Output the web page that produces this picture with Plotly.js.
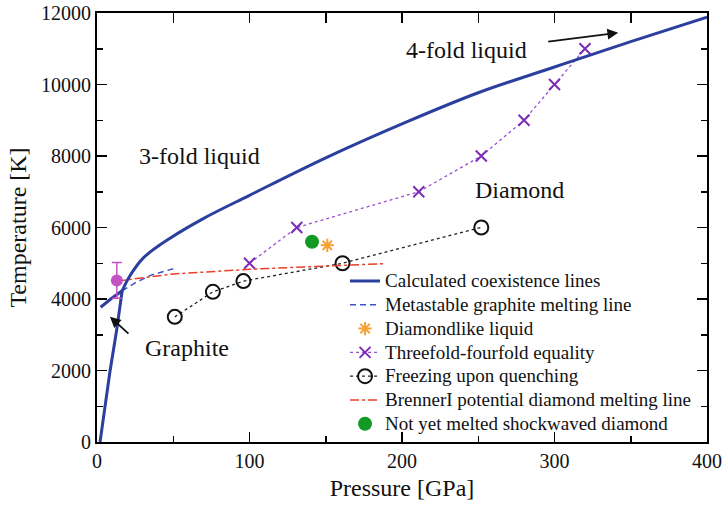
<!DOCTYPE html>
<html>
<head>
<meta charset="utf-8">
<script src="https://cdn.plot.ly/plotly-3.0.1.min.js"></script>
<style>html,body{margin:0;padding:0;background:#fff;}#chart{width:728px;height:510px;}</style>
</head>
<body>
<div id="chart"></div>
<script>
// Calculated coexistence lines: steep diamond/graphite boundary, diamond melting curve, graphite melting line
const coexSteepP = [2, 8.5, 12.9, 16.5];
const coexSteepT = [0, 1970, 3130, 4230];
const coexMeltP = [16.5, 21.6, 30.4, 47.9, 69.7, 100, 150, 205, 250, 300, 350, 400];
const coexMeltT = [4230, 4650, 5150, 5700, 6250, 6900, 7950, 8990, 9770, 10490, 11200, 11880];
const coexGraphiteP = [2.4, 9, 16.5];
const coexGraphiteT = [3770, 4000, 4230];
// Metastable graphite melting line
const metaP = [16.5, 25, 35, 51];
const metaT = [4230, 4450, 4660, 4860];
// Diamondlike liquid
const dlP = [151];
const dlT = [5500];
// Threefold-fourfold equality
const tfP = [100, 131, 211, 252, 280, 300, 320];
const tfT = [5000, 6000, 7000, 8000, 9000, 10000, 11000];
// Freezing upon quenching
const fqP = [51, 76, 96, 161, 252];
const fqT = [3500, 4200, 4500, 5000, 6000];
// BrennerI potential diamond melting line
const brP = [13, 25, 50, 100, 150, 188];
const brT = [4500, 4560, 4700, 4830, 4920, 4990];
// Not yet melted shockwaved diamond
const shP = [141];
const shT = [5600];
// Experimental point with error bar
const expP = [13];
const expT = [4520];
const expErr = [500];

const legendNames = [
  'Calculated coexistence lines',
  'Metastable graphite melting line',
  'Diamondlike liquid',
  'Threefold-fourfold equality',
  'Freezing upon quenching',
  'BrennerI potential diamond melting line',
  'Not yet melted shockwaved diamond'
];
const lg = s => '<span style="font-size:19px">' + s + '</span>';

const blue = '#2b3f9e';
const traces = [
  {x: coexSteepP.concat([null], coexGraphiteP), y: coexSteepT.concat([null], coexGraphiteT),
   mode: 'lines', name: lg(legendNames[0]), legendgroup: 'coex', line: {color: blue, width: 3}, connectgaps: false},
  {x: metaP, y: metaT, mode: 'lines', name: lg(legendNames[1]), line: {color: '#3a55c8', width: 1.5, dash: '6px,4px'}},
  {x: dlP, y: dlT, mode: 'markers', name: lg(legendNames[2]),
   marker: {symbol: 'asterisk-open', size: 11, color: '#f5a133', line: {color: '#f5a133', width: 2}}},
  {x: tfP, y: tfT, mode: 'lines+markers', name: lg(legendNames[3]),
   line: {color: '#9a4fd0', width: 1.3, dash: 'dot'},
   marker: {symbol: 'x-thin-open', size: 11, color: '#7d2cb8', line: {color: '#7d2cb8', width: 2}}},
  {x: fqP, y: fqT, mode: 'lines+markers', name: lg(legendNames[4]),
   line: {color: '#222', width: 1.3, dash: 'dot'},
   marker: {symbol: 'circle-open', size: 14, color: '#111', line: {color: '#111', width: 2}}},
  {x: brP, y: brT, mode: 'lines', name: lg(legendNames[5]), line: {color: '#e8402a', width: 1.5, dash: 'dashdot'}},
  {x: shP, y: shT, mode: 'markers', name: lg(legendNames[6]), marker: {symbol: 'circle', size: 14, color: '#139a24'}},
  {x: coexMeltP, y: coexMeltT, mode: 'lines', showlegend: false, legendgroup: 'coex',
   line: {color: blue, width: 3, shape: 'spline', smoothing: 1}},
  {x: expP, y: expT, mode: 'markers', showlegend: false,
   marker: {symbol: 'circle', size: 12, color: '#c352c3'},
   error_y: {type: 'data', array: expErr, visible: true, color: '#c352c3', thickness: 1.5, width: 5}},
  {x: [], y: [], xaxis: 'x2', yaxis: 'y2', mode: 'lines', showlegend: false, hoverinfo: 'skip'}
];

const font = 'Liberation Serif, Times New Roman, serif';
const axisCommon = {
  showline: true, linecolor: '#000', linewidth: 2, mirror: 'ticks',
  ticks: 'inside', ticklen: 10, tickwidth: 1.5, tickcolor: '#000',
  showgrid: false, zeroline: false,
  tickfont: {family: font, size: 20, color: '#111'}
};

const layout = {
  width: 728, height: 510,
  margin: {l: 97, r: 21, t: 13, b: 68},
  paper_bgcolor: '#fff', plot_bgcolor: '#fff',
  font: {family: font, color: '#111'},
  xaxis: Object.assign({}, axisCommon, {
    range: [0, 400], dtick: 100, tick0: 0,
    minor: {dtick: 50, ticks: 'inside', ticklen: 6, tickwidth: 1.5, tickcolor: '#000'},
    title: {text: 'Pressure [GPa]', font: {family: font, size: 24, color: '#111'}, standoff: 8}
  }),
  yaxis: Object.assign({}, axisCommon, {
    range: [0, 12000], dtick: 2000, tick0: 0, tickformat: 'd',
    minor: {dtick: 1000, ticks: 'inside', ticklen: 6, tickwidth: 1.5, tickcolor: '#000'},
    title: {text: 'Temperature [K]', font: {family: font, size: 24, color: '#111'}, standoff: 8}
  }),
  xaxis2: {overlaying: 'x', side: 'top', anchor: 'y2', range: [0, 400], dtick: 50, tick0: 0,
    ticks: 'inside', ticklen: 10, tickwidth: 1.5, tickcolor: '#000', showticklabels: false,
    showgrid: false, zeroline: false, showline: false},
  yaxis2: {overlaying: 'y', side: 'right', anchor: 'x2', range: [0, 12000], dtick: 2000, tick0: 0,
    ticks: 'inside', ticklen: 10, tickwidth: 1.5, tickcolor: '#000', showticklabels: false,
    minor: {dtick: 1000, ticks: 'inside', ticklen: 6, tickwidth: 1.5, tickcolor: '#000'},
    showgrid: false, zeroline: false, showline: false},
  legend: {x: 0.4066, xanchor: 'left', y: 0.4147, yanchor: 'top', bgcolor: 'rgba(0,0,0,0)',
    font: {family: font, size: 16, color: '#111'}, tracegroupgap: 0},
  showlegend: true,
  annotations: [
    {x: 67, y: 8000, xref: 'x', yref: 'y', text: '3-fold liquid', showarrow: false, font: {family: font, size: 24, color: '#111'}},
    {x: 242, y: 10970, xref: 'x', yref: 'y', text: '4-fold liquid', showarrow: false, font: {family: font, size: 24, color: '#111'}},
    {x: 277, y: 7050, xref: 'x', yref: 'y', text: 'Diamond', showarrow: false, font: {family: font, size: 24, color: '#111'}},
    {x: 58.7, y: 2630, xref: 'x', yref: 'y', text: 'Graphite', showarrow: false, font: {family: font, size: 24, color: '#111'}},
    {x: 341.8, y: 11449, ax: 294.9, ay: 11197, xref: 'x', yref: 'y', axref: 'x', ayref: 'y', text: '',
     showarrow: true, arrowhead: 2, arrowsize: 1.2, arrowwidth: 1.8, arrowcolor: '#111'},
    {x: 8.5, y: 3505, ax: 21.6, ay: 2993, xref: 'x', yref: 'y', axref: 'x', ayref: 'y', text: '',
     showarrow: true, arrowhead: 2, arrowsize: 1.2, arrowwidth: 1.8, arrowcolor: '#111'}
  ]
};

Plotly.newPlot('chart', traces, layout, {staticPlot: true, displayModeBar: false});
</script>
</body>
</html>
